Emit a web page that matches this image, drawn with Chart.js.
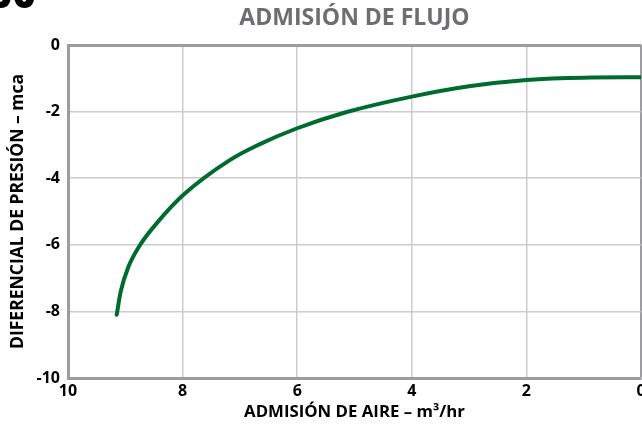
<!DOCTYPE html>
<html>
<head>
<meta charset="utf-8">
<script src="https://cdn.jsdelivr.net/npm/chart.js@4.4.0/dist/chart.umd.min.js"></script>
<style>
  html, body { margin: 0; padding: 0; background: #fff; }
  #wrap { width: 642px; height: 424px; }
</style>
</head>
<body>
<div id="wrap"><canvas id="flow_chart" width="642" height="424"></canvas></div>
<script>
// curve (air intake m3/hr vs pressure diff mca)
const air_flow = [9.15, 9.08, 8.95, 8.74, 8.45, 8.0, 7.17, 6.68, 6.0, 5.15, 4.0, 3.0, 2.0, 1.0, 0.0];
const pressure = [-8.1, -7.4, -6.68, -6.0, -5.35, -4.52, -3.45, -3.0, -2.5, -2.02, -1.55, -1.24, -1.05, -0.98, -0.97];
const x_ticks = [10, 8, 6, 4, 2, 0];
const y_ticks = [0, -2, -4, -6, -8, -10];

const chart_title = 'ADMISIÓN DE FLUJO';
const x_title = 'ADMISIÓN DE AIRE – m³/hr';
const y_title = 'DIFERENCIAL DE PRESIÓN – mca';

const FONT = "'Open Sans', Lato, sans-serif";
const GRID = '#cccccc';
const FRAME = '#9d9da0';

let points = [];
for (var i = 0; i < air_flow.length; i++) {
    points.push({ x: air_flow[i], y: pressure[i] });
}

// cut-off figure number peeking in at the top-left corner
const cornerText = {
    id: 'cornerText',
    afterDraw(chart) {
        const ctx = chart.ctx;
        ctx.save();
        ctx.fillStyle = '#000';
        ctx.font = "800 40px " + FONT;
        ctx.textBaseline = 'alphabetic';
        ctx.fillText('00', -11, 8);
        ctx.restore();
    }
};

const frameColor = (ctx) => {
    const v = ctx.tick ? ctx.tick.value : null;
    return (v === 0) ? FRAME : GRID;
};
const frameWidth = (ctx) => {
    const v = ctx.tick ? ctx.tick.value : null;
    return (v === 0) ? 3 : 1.5;
};

var chart = new Chart(document.getElementById('flow_chart').getContext('2d'), {
    type: 'line',
    data: {
        datasets: [{
            data: points,
            borderColor: '#006b2f',
            borderWidth: 4,
            pointRadius: 0,
            fill: false,
            cubicInterpolationMode: 'monotone',
            borderCapStyle: 'round'
        }]
    },
    plugins: [cornerText],
    options: {
        responsive: false,
        animation: false,
        layout: { padding: { left: 0, right: 1, top: 0, bottom: 0 } },
        plugins: {
            legend: { display: false },
            tooltip: { enabled: false },
            title: {
                display: true,
                text: chart_title,
                fullSize: false,
                color: '#6d6e71',
                font: { family: FONT, size: 23, weight: 'bold' },
                padding: { top: 4.5, bottom: 12.9 }
            }
        },
        scales: {
            x: {
                type: 'linear',
                reverse: true,
                min: 0,
                max: 10,
                afterBuildTicks: (scale) => { scale.ticks = x_ticks.map(v => ({ value: v })); },
                afterFit: (scale) => { scale.paddingLeft = 0; scale.paddingRight = 0; scale.height = 46; },
                ticks: {
                    color: '#000',
                    padding: 4,
                    maxRotation: 0,
                    font: { family: FONT, size: 16, weight: 'bold' }
                },
                grid: { color: frameColor, lineWidth: frameWidth, drawTicks: false },
                border: { display: true, color: FRAME, width: 3 },
                title: {
                    display: true,
                    text: x_title,
                    color: '#000',
                    font: { family: FONT, size: 16.8, weight: 'bold' },
                    padding: { top: 0, bottom: 1.5 }
                }
            },
            y: {
                min: -10,
                max: 0,
                afterBuildTicks: (scale) => { scale.ticks = y_ticks.map(v => ({ value: v })); },
                afterFit: (scale) => { scale.width = 68; },
                ticks: {
                    color: '#000',
                    padding: 8,
                    font: { family: FONT, size: 16, weight: 'bold' }
                },
                grid: { color: frameColor, lineWidth: frameWidth, drawTicks: false },
                border: { display: true, color: FRAME, width: 3 },
                title: {
                    display: true,
                    text: y_title,
                    color: '#000',
                    font: { family: FONT, size: 17.5, weight: 'bold' },
                    padding: { top: 7.5, bottom: 0 }
                }
            }
        }
    }
});
</script>
</body>
</html>
